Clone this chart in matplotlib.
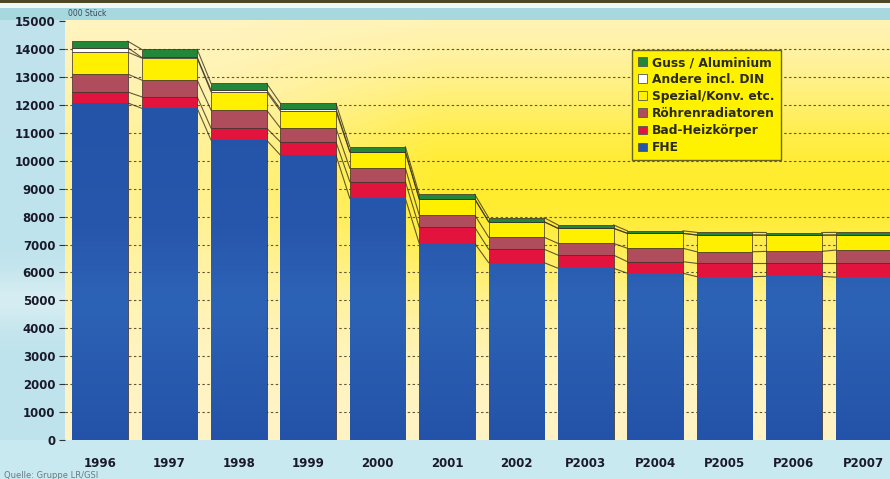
import numpy as np
import matplotlib
matplotlib.use("Agg")
import matplotlib.pyplot as plt
from matplotlib.patches import Patch
from matplotlib.colors import LinearSegmentedColormap, to_rgb

# ---------------- data (1000 Stück) ----------------
years = ["1996", "1997", "1998", "1999", "2000", "2001", "2002",
         "P2003", "P2004", "P2005", "P2006", "P2007"]
fhe     = [12070, 11880, 10740, 10200, 8650, 7040, 6350, 6150, 5970, 5850, 5860, 5830]
bad     = [390, 410, 430, 470, 600, 575, 480, 470, 415, 475, 465, 495]
roehren = [640, 600, 645, 500, 480, 440, 430, 420, 480, 415, 430, 475]
spezial = [790, 790, 655, 610, 590, 575, 555, 540, 535, 600, 580, 540]
andere  = [160, 20, 60, 70, 0, 0, 0, 0, 0, 0, 0, 0]
guss    = [230, 290, 240, 205, 180, 165, 145, 120, 90, 95, 95, 95]

series_names = ["FHE", "Bad-Heizkörper", "Röhrenradiatoren",
                "Spezial/Konv. etc.", "Andere incl. DIN", "Guss / Aluminium"]
series_vals = [fhe, bad, roehren, spezial, andere, guss]
series_cols = ["#2556AA", "#E2143E", "#B04D5C", "#FFF000", "#FFFFFF", "#23873A"]
yticks = list(range(0, 15001, 1000))
unit_text = "000 Stück"
source_text = "Quelle: Gruppe LR/GSI"

# ---------------- figure ----------------
W, H, DPI = 890, 479, 100
plt.rcParams["font.family"] = ["DejaVu Sans"]
fig = plt.figure(figsize=(W / DPI, H / DPI), dpi=DPI)

# figure background (light cyan with top strip and soft highlight band)
bg = np.ones((H, W, 3)) * np.array(to_rgb("#BFE3EC"))
rows = np.arange(H)[:, None, None]
hl = 0.35 * np.exp(-((rows - 300) / 28.0) ** 2)
bg = bg * (1 - hl) + hl * 1.0
bg[0:3] = to_rgb("#4C4824")
bg[3:8] = to_rgb("#F2F7F7")
bg[8:20] = to_rgb("#A6D8DE")
bg[440:] = np.array(to_rgb("#C9EAF0"))
bax = fig.add_axes([0, 0, 1, 1], zorder=-5)
bax.imshow(bg, aspect="auto", extent=(0, 1, 0, 1), interpolation="bilinear")
bax.axis("off")

# main axes
left_px, right_px, top_px, bot_px = 65, 890, 20, 440
ax = fig.add_axes([left_px / W, (H - bot_px) / H,
                   (right_px - left_px) / W, (bot_px - top_px) / H])
ax.set_facecolor("none")
step = 69.4
xl = (-(100 - left_px) / step, (right_px - 100) / step)
ymax = 15040
ax.set_xlim(*xl)
ax.set_ylim(0, ymax)

# plot area gradient background
ny, nx = 200, 300
v = np.linspace(0, 1, ny)[:, None]
u = np.linspace(0, 1, nx)[None, :]
wgt = np.exp(-((v - 0.60) / 0.27) ** 2) * np.clip((u - 0.05) / 0.40, 0.35, 1.0)
cream = np.array(to_rgb("#FFF4C6"))
yel = np.array(to_rgb("#FFEC2E"))
img = cream[None, None, :] * (1 - wgt[..., None]) + yel[None, None, :] * wgt[..., None]
ax.imshow(img, origin="lower", extent=(xl[0], xl[1], 0, ymax),
          aspect="auto", zorder=0, interpolation="bilinear")

# dashed gridlines
for t in yticks[1:-1]:
    ax.axhline(t, color="#5E5838", lw=0.8, dashes=(2.2, 2.2), zorder=1)

x = np.arange(len(years))
bw = 0.80

# series lines between bars (Excel style)
cum = np.zeros(len(years))
levels = []
for vals in series_vals:
    cum = cum + np.array(vals, dtype=float)
    levels.append(cum.copy())
for lev in levels:
    for i in range(len(years) - 1):
        ax.plot([x[i] + bw / 2, x[i + 1] - bw / 2], [lev[i], lev[i + 1]],
                color="#3A3420", lw=0.8, zorder=2, alpha=0.8)

# stacked bars
bottom = np.zeros(len(years))
blue_cmap = LinearSegmentedColormap.from_list(
    "b", [(0, "#2353A8"), (0.33, "#2D63B6"), (0.5, "#2757AC"), (1.0, "#2252A6")])
for name, vals, col in zip(series_names, series_vals, series_cols):
    bars = ax.bar(x, vals, bw, bottom=bottom, color=col, edgecolor="#3A2A28",
                  linewidth=0.5, zorder=3, label=name)
    if name == "FHE":
        grad = np.linspace(0, 1, 256)[:, None]
        for b in bars:
            im = ax.imshow(grad, cmap=blue_cmap, origin="lower", aspect="auto",
                           extent=(xl[0], xl[1], 0, ymax), zorder=3.5,
                           interpolation="bilinear")
            im.set_clip_path(b)
    bottom = bottom + np.array(vals, dtype=float)

# axes styling
for s in ax.spines.values():
    s.set_visible(False)
ax.set_yticks(yticks)
ax.set_yticklabels([str(t) for t in yticks])
ax.set_xticks(x)
ax.set_xticklabels(years)
ax.tick_params(axis="y", length=4, width=0.8, color="#333333", pad=3,
               labelsize=8.5, labelcolor="#1A1A2A")
ax.tick_params(axis="x", length=0, pad=12, labelsize=8.5, labelcolor="#1A1A2A")
for lab in ax.get_xticklabels() + ax.get_yticklabels():
    lab.set_fontweight("bold")

# legend
handles = [Patch(facecolor=c, edgecolor="#555555", linewidth=0.6, label=n)
           for n, c in zip(series_names, series_cols)][::-1]
leg = ax.legend(handles=handles, loc="upper left",
                bbox_to_anchor=((632 - left_px) / (right_px - left_px),
                                (bot_px - 50) / (bot_px - top_px)),
                borderaxespad=0, frameon=True, fancybox=False,
                facecolor="#FFF200", edgecolor="#6A6420", framealpha=1,
                handlelength=0.75, handleheight=0.75, handletextpad=0.35,
                labelspacing=0.33, borderpad=0.5,
                prop={"size": 8.8, "weight": "bold"})
leg.get_frame().set_linewidth(1.0)
leg.set_zorder(10)
for t in leg.get_texts():
    t.set_color("#2A2A1A")

# small texts
fig.text(68 / W, 1 - 14 / H, unit_text, fontsize=5.5, color="#3A4A5A",
         ha="left", va="center")
fig.text(4 / W, 4 / H, source_text, fontsize=6, color="#6A7A80",
         ha="left", va="center")

fig.savefig("out.png", dpi=DPI)
